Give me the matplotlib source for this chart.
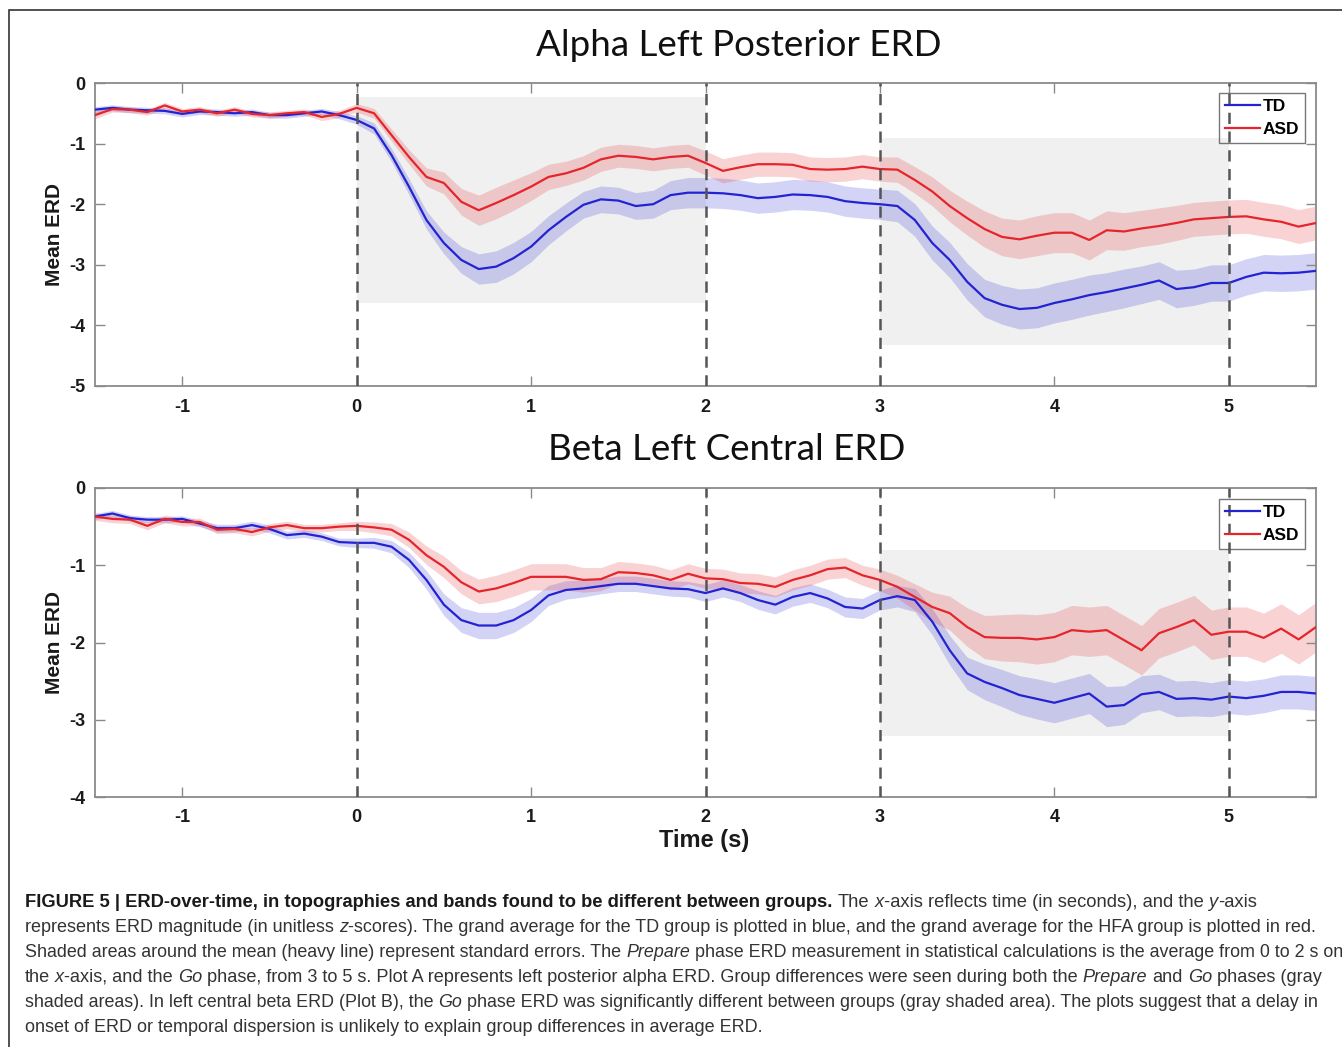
import matplotlib
matplotlib.use('Agg')
import matplotlib.pyplot as plt
import numpy as np
from matplotlib.patches import Rectangle
from matplotlib.lines import Line2D

plt.rcParams['axes.unicode_minus'] = False

# ---------------- data ----------------
time_s = np.linspace(-1.5, 5.5, 71)

alpha_td = [-0.44, -0.41, -0.44, -0.45, -0.46, -0.51, -0.47, -0.48, -0.50, -0.48, -0.53, -0.53, -0.50, -0.47, -0.53,
            -0.61, -0.75, -1.19, -1.71, -2.26, -2.64, -2.92, -3.07, -3.03, -2.89, -2.70,
            -2.43, -2.21, -2.01, -1.92, -1.94, -2.03, -2.00, -1.85, -1.81, -1.81,
            -1.82, -1.85, -1.90, -1.88, -1.84, -1.85, -1.88, -1.95, -1.98, -2.00,
            -2.03, -2.26, -2.64, -2.92, -3.28, -3.55, -3.66, -3.73, -3.71, -3.63,
            -3.57, -3.50, -3.45, -3.39, -3.33, -3.26, -3.40, -3.37, -3.30, -3.30,
            -3.20, -3.13, -3.14, -3.13, -3.10]
alpha_td_se = [0.05, 0.05, 0.05, 0.05, 0.05, 0.05, 0.05, 0.05, 0.05, 0.05, 0.05, 0.05, 0.05, 0.05, 0.06,
               0.07, 0.09, 0.11, 0.13, 0.15, 0.18, 0.22, 0.25, 0.26, 0.26, 0.25,
               0.24, 0.23, 0.22, 0.22, 0.22, 0.22, 0.23, 0.24, 0.25, 0.25,
               0.25, 0.25, 0.25, 0.25, 0.25, 0.25, 0.25, 0.25, 0.25, 0.25,
               0.26, 0.27, 0.28, 0.29, 0.30, 0.31, 0.32, 0.33, 0.33, 0.33,
               0.33, 0.33, 0.32, 0.32, 0.31, 0.31, 0.31, 0.30, 0.30, 0.30,
               0.30, 0.30, 0.30, 0.30, 0.30]
alpha_asd = [-0.53, -0.43, -0.44, -0.48, -0.37, -0.47, -0.44, -0.50, -0.44, -0.51, -0.53, -0.50, -0.48, -0.56, -0.51,
             -0.41, -0.50, -0.86, -1.22, -1.55, -1.65, -1.96, -2.10, -1.98, -1.85, -1.71,
             -1.55, -1.49, -1.40, -1.26, -1.20, -1.22, -1.26, -1.22, -1.20, -1.32,
             -1.45, -1.39, -1.34, -1.34, -1.35, -1.42, -1.43, -1.42, -1.38, -1.42,
             -1.43, -1.60, -1.79, -2.03, -2.23, -2.41, -2.54, -2.58, -2.52, -2.47,
             -2.47, -2.59, -2.43, -2.45, -2.40, -2.36, -2.31, -2.25, -2.23, -2.21,
             -2.20, -2.25, -2.29, -2.37, -2.31]
alpha_asd_se = [0.06, 0.05, 0.05, 0.05, 0.05, 0.05, 0.05, 0.05, 0.05, 0.05, 0.05, 0.05, 0.05, 0.06, 0.06,
                0.07, 0.08, 0.10, 0.12, 0.15, 0.18, 0.22, 0.25, 0.26, 0.25, 0.23,
                0.21, 0.20, 0.20, 0.20, 0.19, 0.19, 0.19, 0.19, 0.19, 0.20,
                0.20, 0.20, 0.20, 0.20, 0.20, 0.20, 0.20, 0.20, 0.20, 0.20,
                0.21, 0.22, 0.24, 0.26, 0.28, 0.30, 0.31, 0.32, 0.33, 0.33,
                0.33, 0.33, 0.32, 0.31, 0.30, 0.30, 0.29, 0.28, 0.28, 0.28,
                0.28, 0.28, 0.28, 0.28, 0.28]

beta_td = [-0.37, -0.33, -0.39, -0.41, -0.41, -0.40, -0.46, -0.52, -0.52, -0.48, -0.53, -0.61, -0.59, -0.63, -0.70,
           -0.71, -0.71, -0.76, -0.93, -1.19, -1.51, -1.71, -1.78, -1.78, -1.71, -1.58,
           -1.39, -1.32, -1.30, -1.27, -1.24, -1.24, -1.27, -1.30, -1.31, -1.36,
           -1.30, -1.36, -1.45, -1.51, -1.41, -1.36, -1.43, -1.54, -1.56, -1.45,
           -1.40, -1.45, -1.73, -2.10, -2.40, -2.51, -2.59, -2.68, -2.73, -2.78,
           -2.72, -2.66, -2.83, -2.81, -2.67, -2.64, -2.73, -2.72, -2.74, -2.70,
           -2.72, -2.69, -2.64, -2.64, -2.66]
beta_td_se = [0.04, 0.04, 0.04, 0.04, 0.04, 0.04, 0.04, 0.05, 0.05, 0.05, 0.05, 0.05, 0.05, 0.05, 0.05,
              0.06, 0.07, 0.08, 0.10, 0.12, 0.14, 0.16, 0.17, 0.17, 0.16, 0.15,
              0.13, 0.12, 0.11, 0.10, 0.10, 0.10, 0.10, 0.10, 0.10, 0.11,
              0.11, 0.11, 0.12, 0.12, 0.12, 0.12, 0.12, 0.13, 0.13, 0.13,
              0.14, 0.15, 0.17, 0.19, 0.21, 0.23, 0.24, 0.25, 0.26, 0.26,
              0.26, 0.26, 0.26, 0.25, 0.24, 0.23, 0.23, 0.23, 0.22, 0.22,
              0.22, 0.22, 0.22, 0.22, 0.22]
beta_asd = [-0.37, -0.40, -0.41, -0.49, -0.40, -0.44, -0.44, -0.54, -0.53, -0.57, -0.51, -0.48, -0.52, -0.52, -0.50,
            -0.49, -0.51, -0.54, -0.67, -0.87, -1.02, -1.22, -1.34, -1.30, -1.23, -1.15,
            -1.15, -1.15, -1.19, -1.18, -1.09, -1.10, -1.13, -1.19, -1.11, -1.17,
            -1.18, -1.23, -1.24, -1.28, -1.19, -1.13, -1.05, -1.03, -1.13, -1.19,
            -1.28, -1.41, -1.54, -1.62, -1.80, -1.93, -1.94, -1.94, -1.96, -1.93,
            -1.84, -1.86, -1.84, -1.97, -2.10, -1.88, -1.80, -1.71, -1.90, -1.86,
            -1.86, -1.94, -1.82, -1.96, -1.80]
beta_asd_se = [0.05, 0.05, 0.05, 0.05, 0.05, 0.05, 0.05, 0.05, 0.05, 0.05, 0.05, 0.05, 0.05, 0.05, 0.05,
               0.06, 0.07, 0.08, 0.10, 0.12, 0.14, 0.15, 0.16, 0.17, 0.17, 0.17,
               0.17, 0.17, 0.16, 0.15, 0.14, 0.13, 0.13, 0.13, 0.13, 0.13,
               0.13, 0.13, 0.13, 0.13, 0.13, 0.13, 0.13, 0.13, 0.13, 0.14,
               0.15, 0.17, 0.19, 0.22, 0.25, 0.28, 0.30, 0.31, 0.32, 0.32,
               0.32, 0.32, 0.32, 0.32, 0.32, 0.32, 0.32, 0.32, 0.32, 0.32,
               0.32, 0.32, 0.32, 0.32, 0.32]

# significant windows (x0, x1, ylow, yhigh)
alpha_shades = [(0, 2, -3.63, -0.23), (3, 5, -4.33, -0.91)]
beta_shades = [(3, 5, -3.21, -0.80)]
phase_marks = [0, 2, 3, 5]
group_labels = ['TD', 'ASD']
xticks = [-1, 0, 1, 2, 3, 4, 5]
alpha_yticks = [0, -1, -2, -3, -4, -5]
beta_yticks = [0, -1, -2, -3, -4]
titles = ['Alpha Left Posterior ERD', 'Beta Left Central ERD']

# ---------------- layout ----------------
W, H = 1342, 1047
fig = plt.figure(figsize=(W / 100, H / 100), dpi=100)
fig.patch.set_facecolor('white')


def fx(px):
    return px / W


def fy(py):
    return 1 - py / H


BLUE = '#2323d2'
RED = '#e5252b'
TICKFONT = 'Liberation Sans'

ax1 = fig.add_axes([fx(95), fy(386), fx(1316) - fx(95), fy(83) - fy(386)])
ax2 = fig.add_axes([fx(95), fy(797), fx(1316) - fx(95), fy(488) - fy(797)])


def draw_panel(ax, td, td_se, asd, asd_se, shades, ylim, yticks, legend_anchor):
    td = np.asarray(td)
    asd = np.asarray(asd)
    td_se = np.asarray(td_se)
    asd_se = np.asarray(asd_se)
    for (x0, x1, ylo, yhi) in shades:
        ax.add_patch(Rectangle((x0, ylo), x1 - x0, yhi - ylo, facecolor='#f0f0f0',
                               edgecolor='none', zorder=0))
    ax.fill_between(time_s, td - td_se, td + td_se, color=BLUE, alpha=0.2, lw=0, zorder=1)
    ax.fill_between(time_s, asd - asd_se, asd + asd_se, color=RED, alpha=0.2, lw=0, zorder=1)
    ax.plot(time_s, td, color=BLUE, lw=1.6, zorder=3)
    ax.plot(time_s, asd, color=RED, lw=1.6, zorder=3)
    for xm in phase_marks:
        ax.axvline(xm, color='#555555', lw=1.8, linestyle=(0, (4.5, 3.0)), zorder=4)
    ax.set_xlim(-1.5, 5.5)
    ax.set_ylim(*ylim)
    ax.set_xticks(xticks)
    ax.set_yticks(yticks)
    ax.tick_params(direction='in', length=7, width=1, color='#8a8a8a', top=True, right=True,
                   labelsize=13, labelcolor='#1a1a1a')
    ax.tick_params(axis='x', pad=9)
    ax.tick_params(axis='y', pad=7)
    for lbl in ax.get_xticklabels() + ax.get_yticklabels():
        lbl.set_fontweight('bold')
        lbl.set_family(TICKFONT)
    for sp in ax.spines.values():
        sp.set_color('#8a8a8a')
        sp.set_linewidth(1.3)
    handles = [Line2D([], [], color=BLUE, lw=1.6), Line2D([], [], color=RED, lw=1.6)]
    leg = ax.legend(handles, group_labels, loc='upper right', bbox_to_anchor=legend_anchor,
                    borderaxespad=0, fancybox=False, frameon=True, edgecolor='#555555',
                    prop={'weight': 'bold', 'size': 12.5, 'family': TICKFONT},
                    handlelength=2.0, handletextpad=0.15, borderpad=0.35, labelspacing=0.45)
    leg.get_frame().set_facecolor('none')
    leg.get_frame().set_linewidth(1.0)
    leg.set_zorder(5)


draw_panel(ax1, alpha_td, alpha_td_se, alpha_asd, alpha_asd_se, alpha_shades, (-5, 0),
           alpha_yticks, (0.991, 0.967))
draw_panel(ax2, beta_td, beta_td_se, beta_asd, beta_asd_se, beta_shades, (-4, 0),
           beta_yticks, (0.991, 0.966))

# titles
fig.text(fx(739), fy(46), titles[0], ha='center', va='center', fontsize=26.5, family='Lato',
         color='#111111')
fig.text(fx(727), fy(449), titles[1], ha='center', va='center', fontsize=26.5, family='Lato',
         color='#111111')

# axis labels
for cy in (235, 643):
    fig.text(fx(55), fy(cy), 'Mean ERD', rotation=90, ha='center', va='center', fontsize=15,
             fontweight='bold', family=TICKFONT, color='#1a1a1a')
fig.text(fx(704), fy(840), 'Time (s)', ha='center', va='center', fontsize=17,
         fontweight='bold', family=TICKFONT, color='#1a1a1a')

# outer frame
fig.add_artist(Rectangle((fx(9), fy(1200)), 1.5, fy(10) - fy(1200), transform=fig.transFigure,
                         fill=False, edgecolor='#333333', lw=1.2, clip_on=False))

# ---------------- caption ----------------
renderer = fig.canvas.get_renderer()
CAPFONT = 'Liberation Sans'
STY = {'b': dict(fontweight='bold', fontstyle='normal', color='#1a1a1a'),
       'n': dict(fontweight='normal', fontstyle='normal', color='#333333'),
       'i': dict(fontweight='normal', fontstyle='italic', color='#333333')}


def twidth(s, size, style):
    t = fig.text(0, 0, s, fontsize=size, family=CAPFONT, **STY[style])
    w = t.get_window_extent(renderer).width
    t.remove()
    return w


def advance(piece, size, style):
    core = piece.strip(' ')
    lead = len(piece) - len(piece.lstrip(' '))
    trail = len(piece) - len(piece.rstrip(' '))
    sp = twidth('a a', size, style) - twidth('aa', size, style)
    w = twidth(core, size, style) if core else 0
    return lead * sp, w, trail * sp


def line_width(pieces, size):
    tot = 0
    for s, st in pieces:
        a, b, c = advance(s, size, st)
        tot += a + b + c
    return tot


def draw_line(pieces, x0, base_py, size, target=None):
    if target is not None:
        size = size * target / line_width(pieces, size)
    x = x0
    for s, st in pieces:
        a, b, c = advance(s, size, st)
        x += a
        fig.text(fx(x), fy(base_py), s.strip(' '), fontsize=size, family=CAPFONT, ha='left',
                 va='baseline', **STY[st])
        x += b + c
    return size


caption_lines = [
    [('FIGURE 5 | ERD-over-time, in topographies and bands found to be different between groups.', 'b'),
     (' The ', 'n'), ('x', 'i'), ('-axis reflects time (in seconds), and the ', 'n'), ('y', 'i'), ('-axis', 'n')],
    [('represents ERD magnitude (in unitless ', 'n'), ('z', 'i'),
     ('-scores). The grand average for the TD group is plotted in blue, and the grand average for the HFA group is plotted in red.', 'n')],
    [('Shaded areas around the mean (heavy line) represent standard errors. The ', 'n'), ('Prepare', 'i'),
     (' phase ERD measurement in statistical calculations is the average from 0 to 2 s on', 'n')],
    [('the ', 'n'), ('x', 'i'), ('-axis, and the ', 'n'), ('Go', 'i'),
     (' phase, from 3 to 5 s. Plot A represents left posterior alpha ERD. Group differences were seen during both the ', 'n'),
     ('Prepare', 'i'), (' and ', 'n'), ('Go', 'i'), (' phases (gray', 'n')],
    [('shaded areas). In left central beta ERD (Plot B), the ', 'n'), ('Go', 'i'),
     (' phase ERD was significantly different between groups (gray shaded area). The plots suggest that a delay in', 'n')],
    [('onset of ERD or temporal dispersion is unlikely to explain group differences in average ERD.', 'n')],
]
line_ends = [1255, 1312, 1336, 1318, 1316, None]
sizes = []
for i, (pieces, end) in enumerate(zip(caption_lines, line_ends)):
    base = 907 + 25 * i
    if end is None:
        draw_line(pieces, 25, base, float(np.mean(sizes)))
    else:
        sizes.append(draw_line(pieces, 25, base, 11, target=end - 25))

fig.savefig('out.png', dpi=100, facecolor='white')
